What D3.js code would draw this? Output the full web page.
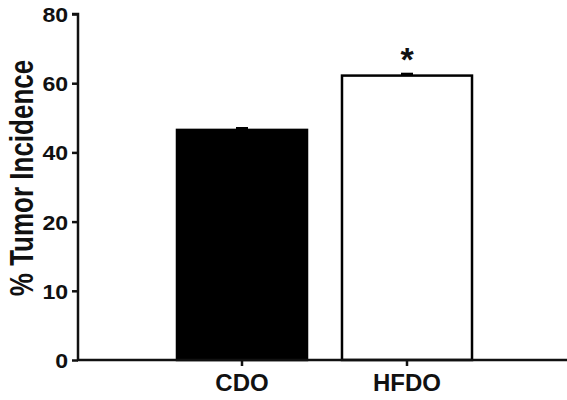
<!DOCTYPE html>
<html>
<head>
<meta charset="utf-8">
<script src="https://cdn.jsdelivr.net/npm/d3@7"></script>
<style>
  body { margin: 0; background: #fff; }
  text { font-family: "Liberation Sans", Arial, sans-serif; font-weight: bold; fill: #111; }
</style>
</head>
<body>
<svg id="chart"></svg>
<script>
const categories = ["CDO", "HFDO"];
const values = [46.5, 62.2];
const errors = [0.4, 0.4];
const barFills = ["#000", "#fff"];
const yTicks = [0, 10, 20, 40, 60, 80];
const significance = ["", "*"];

const dimensions = {
  width: 567,
  height: 400,
  axisLeft: 78,
  axisRight: 567,
  baseline: 360,
  top: 14
};

const svg = d3.select("#chart")
  .attr("width", dimensions.width)
  .attr("height", dimensions.height);

// tick labels are evenly spaced even though the values aren't
const yScale = d3.scaleLinear()
  .domain(yTicks)
  .range(yTicks.map((d, i) =>
    dimensions.baseline - i * (dimensions.baseline - dimensions.top) / (yTicks.length - 1)));

const xScale = d3.scaleBand()
  .domain(categories)
  .range([159.5, 489.5])
  .paddingInner(0.212)
  .paddingOuter(0.106);

// bars
svg.append("g")
  .selectAll("rect")
  .data(categories)
  .join("rect")
  .attr("x", d => xScale(d))
  .attr("y", (d, i) => yScale(values[i]))
  .attr("width", xScale.bandwidth())
  .attr("height", (d, i) => dimensions.baseline - yScale(values[i]))
  .attr("fill", (d, i) => barFills[i])
  .attr("stroke", "#000")
  .attr("stroke-width", 2.5);

// error caps
svg.append("g")
  .selectAll("line")
  .data(categories)
  .join("line")
  .attr("x1", d => xScale(d) + xScale.bandwidth() / 2 - 6)
  .attr("x2", d => xScale(d) + xScale.bandwidth() / 2 + 6)
  .attr("y1", (d, i) => yScale(values[i] + errors[i]))
  .attr("y2", (d, i) => yScale(values[i] + errors[i]))
  .attr("stroke", "#000")
  .attr("stroke-width", 3);

// asterisk
svg.append("g")
  .selectAll("text")
  .data(categories)
  .join("text")
  .attr("x", d => xScale(d) + xScale.bandwidth() / 2)
  .attr("y", (d, i) => yScale(values[i]) - 5)
  .attr("text-anchor", "middle")
  .style("font-size", "34px")
  .text((d, i) => significance[i]);

// y axis
const axisY = d3.axisLeft(yScale).tickValues(yTicks).tickSize(6).tickPadding(3);
const gy = svg.append("g")
  .attr("transform", `translate(${dimensions.axisLeft},0)`)
  .call(axisY);
gy.select(".domain").attr("stroke", "#111").attr("stroke-width", 2.5)
  .attr("d", `M-6,${dimensions.top}H0V${dimensions.baseline}`);
gy.selectAll(".tick line").attr("stroke", "#111").attr("stroke-width", 2.5);
gy.selectAll(".tick text")
  .style("font-size", "21px")
  .attr("fill", "#111")
  .attr("transform", "scale(1.1,1)")
  .attr("dy", "0.36em");

// x axis
const axisX = d3.axisBottom(xScale).tickSize(6).tickPadding(8);
const gx = svg.append("g")
  .attr("transform", `translate(0,${dimensions.baseline})`)
  .call(axisX);
gx.select(".domain").remove();
gx.selectAll(".tick line").attr("stroke", "#111").attr("stroke-width", 2.5);
gx.selectAll(".tick text")
  .style("font-size", "24px")
  .attr("fill", "#111");

svg.append("line")
  .attr("x1", dimensions.axisLeft - 1)
  .attr("x2", dimensions.axisRight)
  .attr("y1", dimensions.baseline)
  .attr("y2", dimensions.baseline)
  .attr("stroke", "#111")
  .attr("stroke-width", 2.5);

// y axis label
svg.append("text")
  .attr("text-anchor", "middle")
  .attr("transform", "translate(33,178)rotate(-90)scale(1,1.25)")
  .style("font-size", "26px")
  .text("% Tumor Incidence");
</script>
</body>
</html>
